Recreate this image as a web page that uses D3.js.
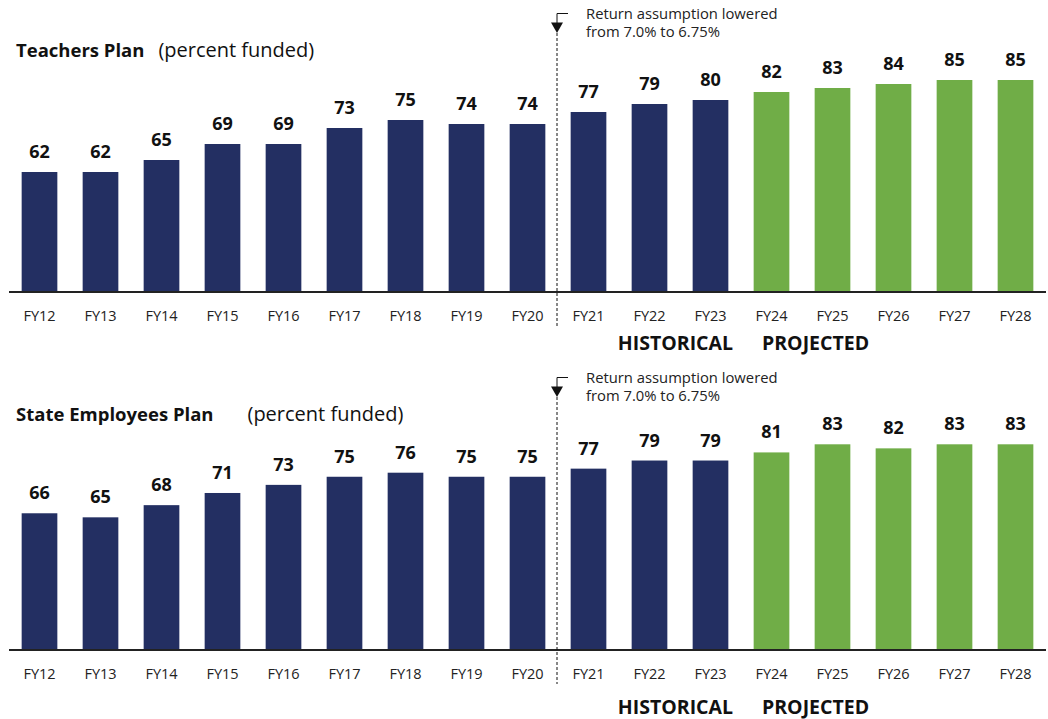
<!DOCTYPE html>
<html>
<head>
<meta charset="utf-8">
<script src="https://cdn.jsdelivr.net/npm/d3@7"></script>
<style>
  body { margin: 0; background: #fff; }
  svg { display: block; font-family: 'Open Sans', 'Noto Sans', sans-serif; }
</style>
</head>
<body>
<div id="chart"></div>
<script>
// fiscal years shown on both panels
const years = ['FY12', 'FY13', 'FY14', 'FY15', 'FY16', 'FY17', 'FY18', 'FY19', 'FY20',
  'FY21', 'FY22', 'FY23', 'FY24', 'FY25', 'FY26', 'FY27', 'FY28'];
const projectedFrom = 'FY24';
const changeAfter = 'FY20';

const teachersFunded = [62, 62, 65, 69, 69, 73, 75, 74, 74, 77, 79, 80, 82, 83, 84, 85, 85];
const stateFunded = [66, 65, 68, 71, 73, 75, 76, 75, 75, 77, 79, 79, 81, 83, 82, 83, 83];

const noteLines = ['Return assumption lowered', 'from 7.0% to 6.75%'];

const NAVY = '#232f62';
const GREEN = '#70ad47';

const width = 1048;
const height = 719;

const svg = d3.select('#chart').append('svg')
  .attr('width', width)
  .attr('height', height);

const x = d3.scaleBand()
  .domain(years)
  .range([9, 1046])
  .paddingInner(0.415)
  .paddingOuter(0.2075);

const panels = [
  { title: 'Teachers Plan', values: teachersFunded, top: 0, base: 292, yMin: 32, yMaxPx: 80, yMax: 85, titleGap: 14, histDy: 58 },
  { title: 'State Employees Plan', values: stateFunded, top: 364, base: 650, yMin: 32.3, yMaxPx: 444.3, yMax: 83, titleGap: 34, histDy: 64 },
];

const projIndex = years.indexOf(projectedFrom);
const divX = (x(changeAfter) + x.bandwidth() + x(years[years.indexOf(changeAfter) + 1])) / 2 - 1;
const splitX = (x(years[projIndex - 1]) + x.bandwidth() + x(projectedFrom)) / 2;

panels.forEach((p) => {
  const g = svg.append('g');
  const y = d3.scaleLinear().domain([p.yMin, p.yMax]).range([p.base, p.yMaxPx]);

  // title
  const title = g.append('text')
    .attr('x', 16)
    .attr('y', p.top + 57)
    .attr('fill', '#111');
  title.append('tspan').attr('font-weight', 700).style('font-size', '18.5px').text(p.title);
  title.append('tspan').attr('dx', p.titleGap).style('font-size', '20px').text('(percent funded)');

  // bars
  g.selectAll('rect.bar')
    .data(p.values)
    .enter().append('rect')
      .attr('class', 'bar')
      .attr('x', (d, i) => x(years[i]))
      .attr('y', d => y(d))
      .attr('width', x.bandwidth())
      .attr('height', d => p.base - y(d))
      .attr('fill', (d, i) => (i >= projIndex ? GREEN : NAVY));

  // value labels
  g.selectAll('text.val')
    .data(p.values)
    .enter().append('text')
      .attr('class', 'val')
      .attr('x', (d, i) => x(years[i]) + x.bandwidth() / 2)
      .attr('y', d => y(d) - 14)
      .attr('text-anchor', 'middle')
      .attr('font-weight', 700)
      .attr('fill', '#111')
      .style('font-size', '18px')
      .text(d => d);

  // x axis
  const axis = g.append('g')
    .attr('transform', `translate(0,${p.base})`)
    .call(d3.axisBottom(x).tickSize(0).tickPadding(0));
  axis.select('.domain')
    .attr('d', 'M9,0H1046')
    .attr('stroke', '#222')
    .attr('stroke-width', 2);
  axis.selectAll('text')
    .attr('y', 29)
    .attr('dy', 0)
    .attr('fill', '#222')
    .style('font-family', "'Open Sans', 'Noto Sans', sans-serif")
    .style('font-size', '14.5px');

  // historical / projected labels
  g.append('text')
    .attr('x', splitX - 8)
    .attr('y', p.base + p.histDy)
    .attr('text-anchor', 'end')
    .attr('font-weight', 700)
    .attr('fill', '#111')
    .style('font-size', '19.5px')
    .text('HISTORICAL');
  g.append('text')
    .attr('x', splitX + 21)
    .attr('y', p.base + p.histDy)
    .attr('font-weight', 700)
    .attr('fill', '#111')
    .style('font-size', '19.5px')
    .text('PROJECTED');

  // assumption change marker
  const t = p.top;
  g.append('line')
    .attr('x1', divX).attr('x2', divX)
    .attr('y1', t + 33).attr('y2', p.base + 34)
    .attr('stroke', '#111')
    .attr('stroke-width', 1)
    .attr('stroke-dasharray', '3,2');
  g.append('path')
    .attr('d', `M${divX + 11},${t + 13.5}H${divX}V${t + 23}`)
    .attr('fill', 'none')
    .attr('stroke', '#111')
    .attr('stroke-width', 1);
  g.append('path')
    .attr('d', `M${divX - 6},${t + 22.5}H${divX + 6}L${divX},${t + 33}Z`)
    .attr('fill', '#111');

  g.append('g').selectAll('text')
    .data(noteLines)
    .enter().append('text')
      .attr('x', divX + 29)
      .attr('y', (d, i) => t + 18.5 + i * 18.5)
      .attr('fill', '#222')
      .style('font-size', '14.8px')
      .text(d => d);
});
</script>
</body>
</html>
